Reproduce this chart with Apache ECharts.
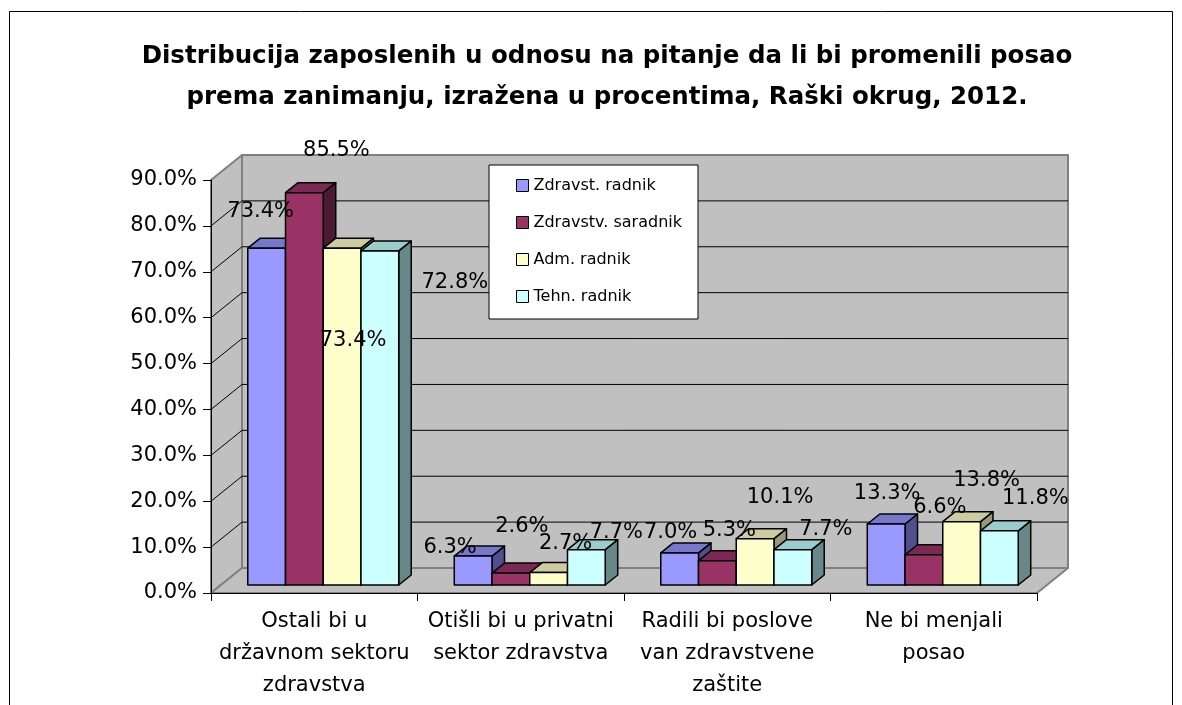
<!DOCTYPE html>
<html>
<head>
<meta charset="utf-8">
<title>Distribucija zaposlenih - Raški okrug 2012</title>
<script src="https://cdn.jsdelivr.net/npm/echarts@6/dist/echarts.min.js"></script>
<style>
  html, body { margin: 0; padding: 0; background: #fff; }
  #chart { width: 1182px; height: 705px; }
</style>
</head>
<body>
<div id="chart"></div>
<script>
// podaci
var categories = [
  'Ostali bi u\ndržavnom sektoru\nzdravstva',
  'Otišli bi u privatni\nsektor zdravstva',
  'Radili bi poslove\nvan zdravstvene\nzaštite',
  'Ne bi menjali\nposao'
];
var seriesNames = ['Zdravst. radnik', 'Zdravstv. saradnik', 'Adm. radnik', 'Tehn. radnik'];
var zdravstRadnik    = [73.4, 6.3, 7.0, 13.3];
var zdravstvSaradnik = [85.5, 2.6, 5.3, 6.6];
var admRadnik        = [73.4, 2.7, 10.1, 13.8];
var tehnRadnik       = [72.8, 7.7, 7.7, 11.8];
var yTicks = [0, 10, 20, 30, 40, 50, 60, 70, 80, 90];

var values = [zdravstRadnik, zdravstvSaradnik, admRadnik, tehnRadnik];

// boje (prednja, gornja, bocna strana)
var frontCol = ['#9999ff', '#993366', '#ffffcc', '#ccffff'];
var topCol   = ['#7777cc', '#7a2952', '#cccc9f', '#99cccc'];
var sideCol  = ['#505090', '#4d1a33', '#99997a', '#668888'];

// Excel je etikete postavio pomalo nasumicno - pomak od vrha stubica
var labelShift = [
  [[-6, -37], [-23, -9], [-9, -20], [1, -30]],
  [[32, -42], [11, -47], [12, -30], [16, -47]],
  [[11, 92], [17, -29], [25, -41], [25, -41]],
  [[75, 32], [30, -17], [33, -20], [36, -32]]
];

var DEPTH = [31, -25];       // dubina zidova
var BAR_FRONT = [9, -8];     // prednja strana stubica je malo iza ose
var BAR_DEPTH = [12.5, -10]; // dubina stubica
var GROUP = 0.731;           // udeo kategorije koji zauzima grupa
var FONT = '"DejaVu Sans", sans-serif';

function wallRenderer(params, api) {
  var cs = params.coordSys;
  var x0 = cs.x, y0 = cs.y, w = cs.width, h = cs.height;
  var dx = DEPTH[0], dy = DEPTH[1];
  var yb = y0 + h;
  var wall = { fill: '#c0c0c0', stroke: '#808080', lineWidth: 2, lineJoin: 'round' };
  var children = [
    { type: 'polygon', shape: { points: [[x0, yb], [x0, y0], [x0 + dx, y0 + dy], [x0 + dx, yb + dy]] }, style: wall },
    { type: 'polygon', shape: { points: [[x0 + dx, y0 + dy], [x0 + w + dx, y0 + dy], [x0 + w + dx, yb + dy], [x0 + dx, yb + dy]] }, style: wall },
    { type: 'polygon', shape: { points: [[x0, yb], [x0 + dx, yb + dy], [x0 + w + dx, yb + dy], [x0 + w, yb]] }, style: wall }
  ];
  yTicks.forEach(function (t) {
    if (t === yTicks[0] || t === yTicks[yTicks.length - 1]) return;
    var y = api.coord([0, t])[1];
    children.push({
      type: 'polyline',
      shape: { points: [[x0, y], [x0 + dx, y + dy], [x0 + w + dx, y + dy]] },
      style: { stroke: '#000', lineWidth: 1, fill: null }
    });
  });
  return { type: 'group', children: children };
}

function barRenderer(s) {
  return function (params, api) {
    var cat = api.value(0), v = api.value(1);
    var base = api.coord([cat, 0]);
    var top = api.coord([cat, v]);
    var band = api.size([1, 0])[0];
    var bw = band * GROUP / 4;
    var x = base[0] - band * GROUP / 2 + s * bw + BAR_FRONT[0];
    var yb = base[1] + BAR_FRONT[1];
    var yt = top[1] + BAR_FRONT[1];
    var dx = BAR_DEPTH[0], dy = BAR_DEPTH[1];
    var off = labelShift[s][params.dataIndex];
    function st(fill) {
      return { fill: fill, stroke: '#000', lineWidth: 1.5, lineJoin: 'round' };
    }
    return {
      type: 'group',
      children: [
        { type: 'polygon', shape: { points: [[x + bw, yt], [x + bw + dx, yt + dy], [x + bw + dx, yb + dy], [x + bw, yb]] }, style: st(sideCol[s]) },
        { type: 'polygon', shape: { points: [[x, yt], [x + dx, yt + dy], [x + bw + dx, yt + dy], [x + bw, yt]] }, style: st(topCol[s]) },
        { type: 'rect', shape: { x: x, y: yt, width: bw, height: yb - yt }, style: st(frontCol[s]) },
        {
          type: 'text', z2: 100,
          x: x + bw / 2 + off[0], y: yt + off[1],
          style: { text: v.toFixed(1) + '%', fill: '#000', font: '21px ' + FONT, align: 'center', verticalAlign: 'middle' }
        }
      ]
    };
  };
}

var series = [{
  name: 'zidovi',
  type: 'custom',
  renderItem: wallRenderer,
  data: [[0, 0]],
  encode: { x: 0, y: 1 },
  clip: false,
  silent: true,
  z: 1
}];
values.forEach(function (arr, s) {
  series.push({
    name: seriesNames[s],
    type: 'custom',
    renderItem: barRenderer(s),
    data: arr.map(function (v, j) { return [j, v]; }),
    encode: { x: 0, y: 1 },
    itemStyle: { color: frontCol[s] },
    clip: false,
    z: 2
  });
});

var myChart = echarts.init(document.getElementById('chart'));
var option = {
  animation: false,
  backgroundColor: '#fff',
  title: {
    text: 'Distribucija zaposlenih u odnosu na pitanje da li bi promenili posao\nprema zanimanju, izražena u procentima, Raški okrug, 2012.',
    left: 607,
    top: 36,
    padding: 0,
    textAlign: 'center',
    textStyle: {
      fontFamily: FONT,
      fontSize: 24.5,
      fontWeight: 'bold',
      color: '#000',
      lineHeight: 41
    }
  },
  legend: {
    data: seriesNames.map(function (n, i) { return { name: n, itemStyle: { color: frontCol[i] } }; }),
    orient: 'vertical',
    left: 489,
    top: 165,
    backgroundColor: '#fff',
    borderColor: '#000',
    borderWidth: 1,
    borderRadius: 0,
    padding: [12, 16, 14, 27],
    icon: 'rect',
    itemWidth: 12,
    itemHeight: 12,
    itemGap: 20,
    itemStyle: { borderColor: '#000', borderWidth: 1 },
    textStyle: { fontFamily: FONT, fontSize: 16, color: '#000', lineHeight: 17 },
    selectedMode: false
  },
  grid: { left: 211, right: 145, top: 180, bottom: 112 },
  xAxis: {
    type: 'category',
    data: categories,
    boundaryGap: true,
    z: 10,
    axisLine: { lineStyle: { color: '#000', width: 1 } },
    axisTick: { show: true, length: 8, lineStyle: { color: '#000' } },
    axisLabel: { interval: 0, fontFamily: FONT, fontSize: 21, color: '#000', lineHeight: 32, margin: 13 },
    splitLine: { show: false }
  },
  yAxis: {
    type: 'value',
    min: yTicks[0],
    max: yTicks[yTicks.length - 1],
    interval: 10,
    z: 10,
    axisLine: { show: true, lineStyle: { color: '#000', width: 1 } },
    axisTick: { show: true, length: 8, lineStyle: { color: '#000' } },
    axisLabel: {
      fontFamily: FONT, fontSize: 21, color: '#000', margin: 14,
      formatter: function (v) { return v.toFixed(1) + '%'; }
    },
    splitLine: { show: false }
  },
  graphic: [{
    type: 'rect',
    shape: { x: 9.5, y: 11.5, width: 1163, height: 760 },
    style: { fill: 'none', stroke: '#000', lineWidth: 1 },
    silent: true,
    z: -1
  }],
  series: series
};
myChart.setOption(option);
</script>
</body>
</html>
